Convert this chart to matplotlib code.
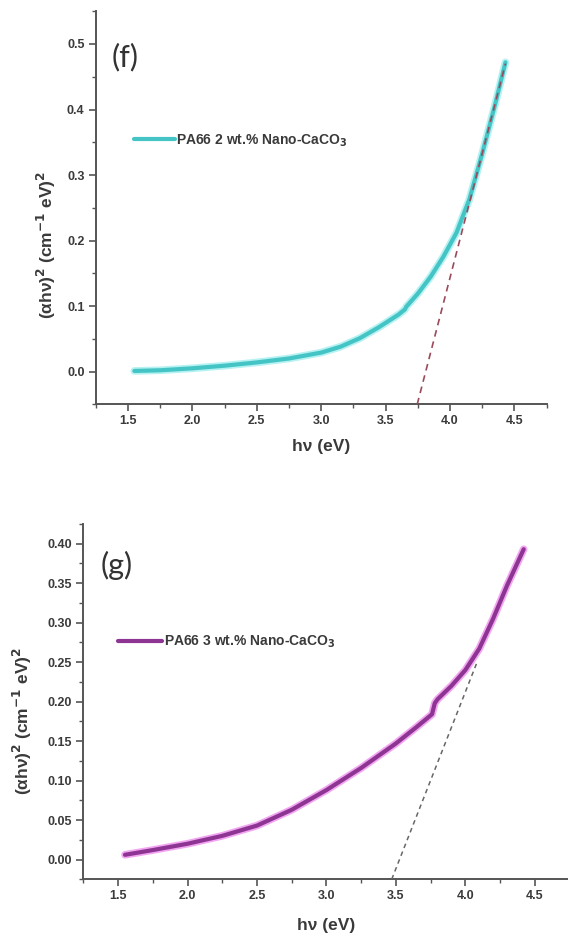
import matplotlib
matplotlib.use('Agg')
import matplotlib.pyplot as plt
from matplotlib.ticker import MultipleLocator, FormatStrFormatter

plt.rcParams['font.family'] = ['Liberation Sans', 'DejaVu Sans']
plt.rcParams['mathtext.default'] = 'bf'

# Tauc plot data, panel (f): PA66 + 2 wt.% nano-CaCO3
hv_f = [1.55, 1.75, 2.00, 2.25, 2.50, 2.75, 3.00, 3.15, 3.30, 3.45, 3.60, 3.65,
        3.66, 3.75, 3.85, 3.95, 4.05, 4.15, 4.25, 4.35, 4.43]
tauc_f = [0.001, 0.002, 0.005, 0.009, 0.014, 0.020, 0.029, 0.038, 0.051, 0.068,
          0.087, 0.095, 0.099, 0.119, 0.145, 0.176, 0.212, 0.263, 0.333, 0.408, 0.472]
fit_f_x = [3.745, 4.43]
fit_f_y = [-0.05, 0.47]

# panel (g): PA66 + 3 wt.% nano-CaCO3
hv_g = [1.55, 1.75, 2.00, 2.25, 2.50, 2.75, 3.00, 3.25, 3.50, 3.65, 3.76, 3.78,
        3.80, 3.90, 4.00, 4.10, 4.20, 4.30, 4.42]
tauc_g = [0.006, 0.012, 0.020, 0.030, 0.043, 0.063, 0.088, 0.116, 0.147, 0.168,
          0.184, 0.198, 0.203, 0.220, 0.240, 0.267, 0.305, 0.347, 0.393]
fit_g_x = [3.47, 4.08]
fit_g_y = [-0.025, 0.248]

labels = ['PA66 2 wt.% Nano-CaCO$_3$', 'PA66 3 wt.% Nano-CaCO$_3$']
ylabel = '(αhν)$^2$ (cm$^{-1}$ eV)$^2$'
xlabel = 'hν (eV)'

fig = plt.figure(figsize=(5.68, 9.36), dpi=100)
ax1 = fig.add_axes([0.1685, 0.568, 0.794, 0.420])
ax2 = fig.add_axes([0.1467, 0.0606, 0.856, 0.3796])

axis_col = '#555555'
text_col = '#3a3a3a'


def style(ax, ymaj, ymin, fmt):
    for s in ['top', 'right']:
        ax.spines[s].set_visible(False)
    for s in ['left', 'bottom']:
        ax.spines[s].set_color(axis_col)
        ax.spines[s].set_linewidth(1.4)
    ax.xaxis.set_major_locator(MultipleLocator(0.5))
    ax.xaxis.set_minor_locator(MultipleLocator(0.25))
    ax.yaxis.set_major_locator(MultipleLocator(ymaj))
    ax.yaxis.set_minor_locator(MultipleLocator(ymin))
    ax.yaxis.set_major_formatter(FormatStrFormatter(fmt))
    ax.xaxis.set_major_formatter(FormatStrFormatter('%.1f'))
    ax.tick_params(which='major', direction='out', length=5, width=1.2,
                   color=axis_col, labelsize=9, labelcolor=text_col, pad=3)
    ax.tick_params(which='minor', direction='out', length=3, width=1.0, color=axis_col)
    for t in ax.get_xticklabels() + ax.get_yticklabels():
        t.set_fontweight('bold')


# (f)
ax1.plot(hv_f, tauc_f, color='#b6f2f2', lw=5.5, solid_capstyle='round', zorder=2)
ax1.plot(hv_f, tauc_f, color='#45c4c6', lw=3.0, solid_capstyle='round', zorder=3,
         label=labels[0])
ax1.plot(fit_f_x, fit_f_y, color='#9a4a5a', lw=1.2, ls=(0, (4, 3)), zorder=4)
ax1.set_xlim(1.25, 4.75)
ax1.set_ylim(-0.05, 0.55)
style(ax1, 0.1, 0.05, '%.1f')
ax1.text(1.48, 0.48, '(f)', fontsize=22, family='Lato', color='#333333',
         ha='center', va='center')
ax1.legend(loc='center left', bbox_to_anchor=(1.55, 0.353),
           bbox_transform=ax1.transData, frameon=False, borderpad=0,
           borderaxespad=0, handlelength=2.9, handletextpad=0.1,
           prop={'size': 10, 'weight': 'bold'}, labelcolor=text_col)
ax1.set_xlabel(xlabel, fontsize=12.5, fontweight='bold', color=text_col, labelpad=8.5)
ax1.set_ylabel(ylabel, fontsize=12.5, fontweight='bold', color=text_col)
ax1.yaxis.set_label_coords(-0.084, 0.405)

# (g)
ax2.plot(hv_g, tauc_g, color='#f2a6f2', lw=5.5, solid_capstyle='round', zorder=2)
ax2.plot(hv_g, tauc_g, color='#8e3593', lw=3.0, solid_capstyle='round', zorder=3,
         label=labels[1])
ax2.plot(fit_g_x, fit_g_y, color='#666666', lw=1.1, ls=(0, (3, 2.5)), zorder=4)
ax2.set_xlim(1.25, 4.75)
ax2.set_ylim(-0.025, 0.425)
style(ax2, 0.05, 0.025, '%.2f')
ax2.text(1.49, 0.372, '(g)', fontsize=22, family='Lato', color='#333333',
         ha='center', va='center')
ax2.legend(loc='center left', bbox_to_anchor=(1.50, 0.276),
           bbox_transform=ax2.transData, frameon=False, borderpad=0,
           borderaxespad=0, handlelength=3.2, handletextpad=0.1,
           prop={'size': 10, 'weight': 'bold'}, labelcolor=text_col)
ax2.set_xlabel(xlabel, fontsize=12.5, fontweight='bold', color=text_col, labelpad=11)
ax2.set_ylabel(ylabel, fontsize=12.5, fontweight='bold', color=text_col)
ax2.yaxis.set_label_coords(-0.101, 0.446)

fig.savefig('out.png', dpi=100)
